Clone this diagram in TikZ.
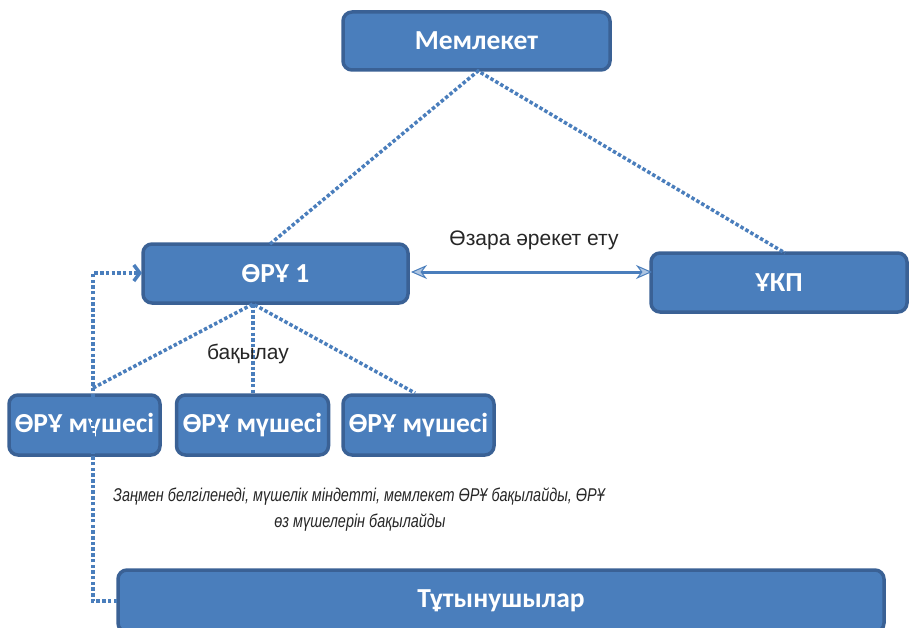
\documentclass[tikz,border=0pt]{standalone}
\usepackage{fontspec}
\setmainfont{Liberation Sans}
\newfontfamily\boxfont{Carlito}
\newfontfamily\noteit{Liberation Sans}[FakeStretch=0.78]
\usetikzlibrary{arrows.meta}
\definecolor{boxfill}{HTML}{4A7EBC}
\definecolor{boxline}{HTML}{3A6195}
\definecolor{linkcol}{HTML}{4A7EBC}
\definecolor{txt}{HTML}{262626}
\tikzset{
  x=1pt,y=-1pt,
  orgbox/.style={draw=boxline, line width=3.5pt, fill=boxfill, rounded corners=9pt,
    text=white, font=\boxfont\bfseries\fontsize{27.5}{31}\selectfont, inner sep=0pt, anchor=center},
  dotlink/.style={draw=linkcol, line width=3.5pt, dash pattern=on 3.5pt off 2.2pt},
  lbl/.style={text=txt, font=\fontsize{21}{25}\selectfont, inner sep=0pt},
  ilbl/.style={text=txt, font=\noteit\itshape\fontsize{18.5}{22}\selectfont, inner sep=0pt}
}
\begin{document}
\begin{tikzpicture}
\useasboundingbox (0,0) rectangle (909,628);
\begin{scope}
\clip (0,0) rectangle (909,628);
\node[orgbox, minimum width=267pt, minimum height=58pt] (mem) at (476.5,41) {Мемлекет};
\node[orgbox, minimum width=265pt, minimum height=59pt] (oru) at (275.5,273.5) {ӨРҰ 1};
\node[orgbox, minimum width=256pt, minimum height=59pt] (ukp) at (779,282.5) {ҰКП};
\node[orgbox, minimum width=151pt, minimum height=60pt] (m1) at (84.5,425) {ӨРҰ мүшесі};
\node[orgbox, minimum width=152pt, minimum height=60pt] (m2) at (252.5,425) {ӨРҰ мүшесі};
\node[orgbox, minimum width=151pt, minimum height=60pt] (m3) at (418.5,425) {ӨРҰ мүшесі};
\node[orgbox, minimum width=766pt, minimum height=62pt] (cons) at (501,601) {Тұтынушылар};

\coordinate (memb) at (478,71);
\coordinate (orut) at (270,244);
\coordinate (ukpt) at (785,253);
\coordinate (orub) at (253,304);
\coordinate (m1t) at (93,388);
\coordinate (m2t) at (253,395);
\coordinate (m3t) at (415,393);

\draw[dotlink] (orut) -- (memb) -- (ukpt);
\draw[dotlink] (m1t) -- (orub) -- (m3t);
\draw[dotlink] (orub) -- (m2t);

\coordinate (oruw) at (142,273);
\coordinate (consw) at (117,601);
\draw[dotlink, -{Straight Barb[length=6pt,width=16pt,line width=3.5pt]}] (consw) -- (93,601) -- (93,273) -- (oruw);

\draw[draw=linkcol, line width=3pt, {Stealth[length=16pt,width=14pt,fill=linkcol!45!white,line width=1pt]}-{Stealth[length=16pt,width=14pt,fill=linkcol!45!white,line width=1pt]}] (411,272) -- (652,272);

\node[lbl] (inter) at (534,240) {Өзара әрекет ету};
\node[lbl] (ctrl) at (248,354) {бақылау};
\node[ilbl] (note1) at (359,497) {Заңмен белгіленеді, мүшелік міндетті, мемлекет ӨРҰ бақылайды, ӨРҰ};
\node[ilbl] (note2) at (360,523) {өз мүшелерін бақылайды};
\end{scope}
\end{tikzpicture}
\end{document}
